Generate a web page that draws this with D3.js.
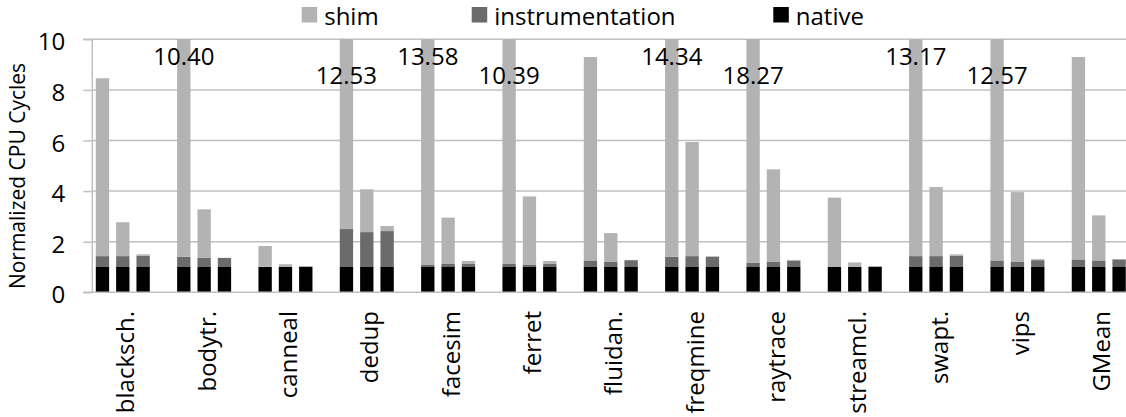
<!DOCTYPE html>
<html>
<head>
<meta charset="utf-8">
<script src="https://cdn.jsdelivr.net/npm/d3@7"></script>
<style>
  html, body { margin: 0; padding: 0; background: #fff; }
  svg { display: block; font-family: "Open Sans", "Noto Sans", sans-serif; }
</style>
</head>
<body>
<svg id="chart" width="1126" height="417"></svg>
<script>
// ---- data ----
const categories = ["blacksch.", "bodytr.", "canneal", "dedup", "facesim", "ferret",
  "fluidan.", "freqmine", "raytrace", "streamcl.", "swapt.", "vips", "GMean"];
const seriesNames = ["shim", "instrumentation", "native"];
const yTicks = [0, 2, 4, 6, 8, 10];
// three bars per benchmark; segment heights
const native = [
  [1, 1, 1], [1, 1, 1], [1, 1, 1], [1, 1, 1], [1, 1, 1], [1, 1, 1], [1, 1, 1],
  [1, 1, 1], [1, 1, 1], [1, 1, 1], [1, 1, 1], [1, 1, 1], [1, 1, 1]
];
const instrumentation = [
  [0.43, 0.43, 0.44], [0.40, 0.36, 0.36], [0.01, 0.00, 0.02], [1.50, 1.38, 1.42],
  [0.08, 0.12, 0.12], [0.12, 0.08, 0.12], [0.26, 0.20, 0.27], [0.40, 0.43, 0.41],
  [0.17, 0.20, 0.24], [0.00, 0.00, 0.02], [0.43, 0.43, 0.44], [0.26, 0.20, 0.27],
  [0.30, 0.26, 0.30]
];
const shim = [
  [7.03, 1.34, 0.06], [9.00, 1.92, 0.00], [0.82, 0.11, 0.01], [10.03, 1.69, 0.20],
  [12.50, 1.83, 0.12], [9.27, 2.71, 0.12], [8.04, 1.14, 0.01], [12.94, 4.51, 0.01],
  [17.10, 3.66, 0.04], [2.74, 0.18, 0.00], [11.74, 2.73, 0.06], [11.31, 2.76, 0.04],
  [8.00, 1.78, 0.01]
];

// ---- layout ----
const W = 1126, H = 417;
const plotLeft = 92.3, plotTop = 39.3, plotBottom = 292.3;
const groupStep = 81.33;
const yMax = 10;
const colors = { shim: "#b3b3b3", instrumentation: "#6b6b6b", native: "#000000" };
const gridColor = "#c0c0c0";
const fontSize = 24;

const svg = d3.select("#chart");

const x = d3.scaleBand().domain(categories)
  .range([plotLeft, plotLeft + groupStep * categories.length])
  .paddingInner(0).paddingOuter(0);
const xInner = d3.scaleBand().domain([0, 1, 2])
  .range([0, groupStep * 3 / 4])
  .paddingInner(0.344).paddingOuter(0.172);
const y = d3.scaleLinear().domain([0, yMax]).range([plotBottom, plotTop]);

// gridlines
svg.append("g").selectAll("line").data(yTicks.filter(d => d > 0)).join("line")
  .attr("x1", plotLeft).attr("x2", W)
  .attr("y1", d => y(d)).attr("y2", d => y(d))
  .attr("stroke", gridColor).attr("stroke-width", 1.5);

// y axis
const yAxis = d3.axisLeft(y).tickValues(yTicks).tickSize(9).tickPadding(18).tickFormat(d3.format("d"));
const gy = svg.append("g").attr("transform", `translate(${plotLeft},0)`).call(yAxis);
gy.select(".domain").attr("stroke", gridColor).attr("stroke-width", 1.5).attr("d", `M-9,${plotTop}H0V${plotBottom}`);
gy.selectAll(".tick line").attr("stroke", gridColor).attr("stroke-width", 1.5);
gy.selectAll(".tick text").attr("font-size", fontSize).attr("font-family", "Open Sans")
  .attr("fill", "#000").attr("dy", "0.44em");

// bars
const bars = [];
categories.forEach((c, i) => {
  for (let j = 0; j < 3; j++) {
    const segs = [
      { key: "native", v: native[i][j] },
      { key: "instrumentation", v: instrumentation[i][j] },
      { key: "shim", v: shim[i][j] }
    ];
    let base = 0;
    segs.forEach(s => {
      bars.push({ cat: c, j, key: s.key, y0: base, y1: base + s.v });
      base += s.v;
    });
  }
});
svg.append("g").selectAll("rect").data(bars.filter(b => b.y1 > b.y0 && b.y0 < yMax)).join("rect")
  .attr("x", d => x(d.cat) + xInner(d.j))
  .attr("width", xInner.bandwidth())
  .attr("y", d => y(Math.min(d.y1, yMax)))
  .attr("height", d => y(d.y0) - y(Math.min(d.y1, yMax)))
  .attr("fill", d => colors[d.key]);

// x axis line
svg.append("line").attr("x1", plotLeft - 9).attr("x2", W)
  .attr("y1", plotBottom).attr("y2", plotBottom)
  .attr("stroke", gridColor).attr("stroke-width", 1.5);

// labels for clipped bars
const clipped = [];
categories.forEach((c, i) => {
  for (let j = 0; j < 3; j++) {
    const tot = native[i][j] + instrumentation[i][j] + shim[i][j];
    if (tot > yMax) clipped.push({ cat: c, j, tot });
  }
});
svg.append("g").selectAll("text").data(clipped).join("text")
  .attr("x", d => x(d.cat) + xInner(d.j) + xInner.bandwidth() / 2)
  .attr("y", (d, k) => k % 2 === 0 ? 65 : 83.5)
  .attr("text-anchor", "middle")
  .attr("font-size", fontSize)
  .attr("fill", "#000")
  .text(d => d.tot.toFixed(2));

// category labels
svg.append("g").selectAll("text").data(categories).join("text")
  .attr("transform", d => `translate(${x(d) + xInner(1) + xInner.bandwidth() / 2 + 11.5},311) rotate(-90)`)
  .attr("text-anchor", "end")
  .attr("font-size", fontSize)
  .attr("fill", "#000")
  .text(d => d);

// y title
svg.append("text")
  .attr("transform", "translate(25,176) rotate(-90)")
  .attr("text-anchor", "middle")
  .attr("font-size", 21)
  .attr("fill", "#000")
  .text("Normalized CPU Cycles");

// legend
const legendX = { shim: 301.7, instrumentation: 471.7, native: 773.3 };
const lg = svg.append("g").selectAll("g").data(seriesNames).join("g")
  .attr("transform", d => `translate(${legendX[d]},0)`);
lg.append("rect").attr("x", 0).attr("y", 7).attr("width", 15.5).attr("height", 15.5)
  .attr("fill", d => colors[d]);
lg.append("text").attr("x", 22.5).attr("y", 24.5)
  .attr("font-size", fontSize).attr("fill", "#000").text(d => d);
</script>
</body>
</html>
